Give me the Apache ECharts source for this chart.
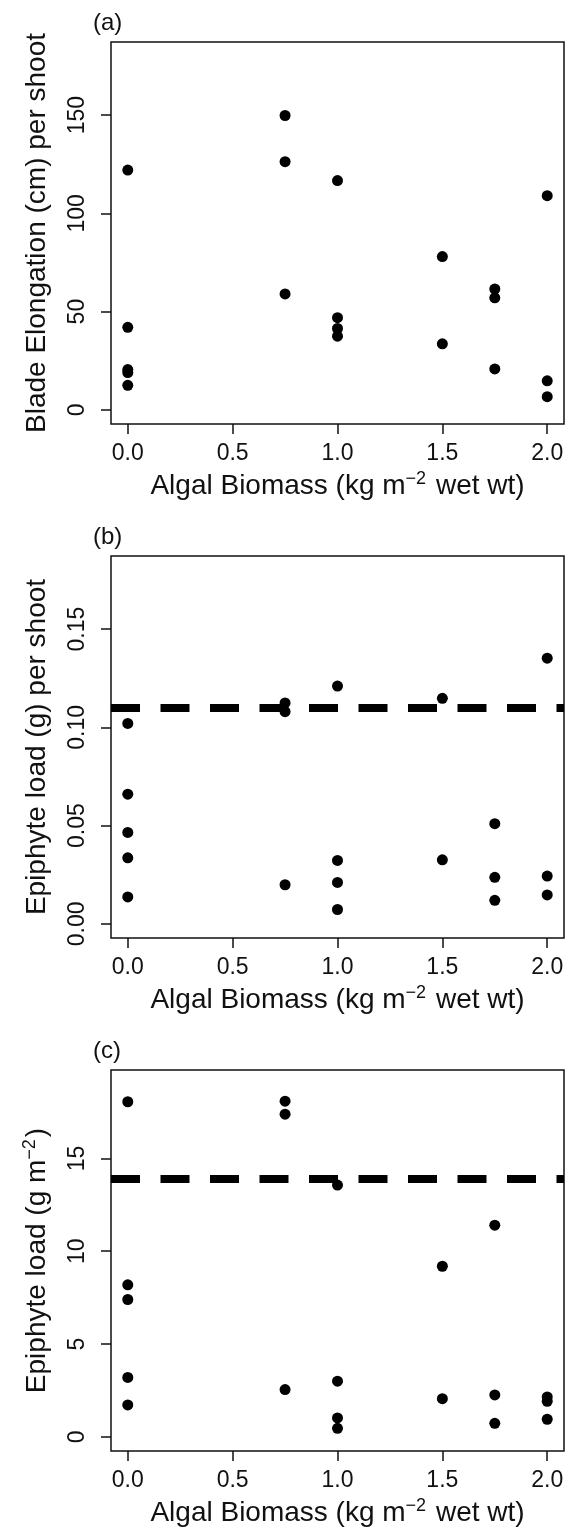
<!DOCTYPE html>
<html>
<head>
<meta charset="utf-8">
<script src="https://cdn.jsdelivr.net/npm/echarts@6/dist/echarts.min.js"></script>
<style>
  html, body { margin: 0; padding: 0; background: #fff; }
  #chart { width: 578px; height: 1528px; }
</style>
</head>
<body>
<div id="chart"></div>
<script>
// algal biomass levels (kg m-2 wet wt), x tick labels
const xTicks = [0, 0.5, 1, 1.5, 2];

// (a) blade elongation (cm) per shoot
const biomassA = [0, 0, 0, 0, 0, 0.75, 0.75, 0.75, 1, 1, 1, 1, 1.5, 1.5, 1.75, 1.75, 1.75, 2, 2, 2];
const elongation = [122, 42, 20.5, 19, 12.5, 149.8, 126.3, 59, 116.7, 46.9, 41.4, 37.5, 78, 33.6, 61.5, 57, 20.8, 109, 14.8, 6.7];
const yTicksA = [0, 50, 100, 150];

// (b) epiphyte load (g) per shoot
const biomassB = [0, 0, 0, 0, 0, 0.75, 0.75, 0.75, 1, 1, 1, 1, 1.5, 1.5, 1.75, 1.75, 1.75, 2, 2, 2];
const loadShoot = [0.102, 0.066, 0.0465, 0.0336, 0.0137, 0.1124, 0.108, 0.0199, 0.121, 0.0323, 0.0211, 0.0073, 0.1148, 0.0326, 0.051, 0.0237, 0.012, 0.1352, 0.0243, 0.0147];
const yTicksB = [0, 0.05, 0.1, 0.15];
const lineB = 0.1095;

// (c) epiphyte load (g m-2)
const biomassC = [0, 0, 0, 0, 0, 0.75, 0.75, 0.75, 1, 1, 1, 1, 1.5, 1.5, 1.75, 1.75, 1.75, 2, 2, 2];
const loadArea = [18.05, 8.19, 7.4, 3.2, 1.72, 18.08, 17.38, 2.55, 13.56, 3.0, 1.02, 0.46, 9.19, 2.06, 11.4, 2.26, 0.73, 2.15, 1.92, 0.95];
const yTicksC = [0, 5, 10, 15];
const lineC = 13.9;

const FONT = 'Liberation Sans, Arial, Helvetica, sans-serif';
const INK = '#111';
const boxTops = [42, 556, 1070];
const boxH = 382;

const chart = echarts.init(document.getElementById('chart'));

const richName = {
  n: { fontSize: 28, fontFamily: FONT, color: INK, lineHeight: 32 },
  s: { fontSize: 18, fontFamily: FONT, color: INK, verticalAlign: 'top', padding: [0, 2, 0, 0] },
};

function xAxisFor(i) {
  return {
    type: 'value',
    gridIndex: i,
    min: -0.08,
    max: 2.08,
    splitLine: { show: false },
    axisLine: { show: false, onZero: false },
    axisTick: {
      show: true, length: 10, customValues: xTicks,
      lineStyle: { color: INK, width: 1.5 },
    },
    axisLabel: {
      customValues: xTicks,
      formatter: (v) => v.toFixed(1),
      margin: 18,
      fontSize: 23,
      fontFamily: FONT,
      color: INK,
    },
    name: '{n|Algal Biomass (kg m}{s|−2}{n| wet wt)}',
    nameLocation: 'middle',
    nameGap: 46,
    nameTextStyle: { rich: richName },
  };
}

function yAxisFor(i, min, max, ticks, fmt, name) {
  return {
    type: 'value',
    gridIndex: i,
    min,
    max,
    splitLine: { show: false },
    axisLine: { show: false, onZero: false },
    axisTick: {
      show: true, length: 10, customValues: ticks,
      lineStyle: { color: INK, width: 1.5 },
    },
    axisLabel: {
      customValues: ticks,
      formatter: fmt,
      rotate: 90,
      margin: 22,
      fontSize: 23,
      fontFamily: FONT,
      color: INK,
    },
    name,
    nameLocation: 'middle',
    nameRotate: 90,
    nameGap: 58,
    nameTextStyle: { fontSize: 28, fontFamily: FONT, color: INK, rich: richName },
  };
}

function dashLine(v) {
  return {
    silent: true,
    symbol: 'none',
    animation: false,
    label: { show: false },
    lineStyle: { color: '#000', width: 8, type: [29, 20.5], cap: 'butt', opacity: 1 },
    data: [{ yAxis: v }],
  };
}

function scatter(i, xs, ys, mark) {
  const s = {
    type: 'scatter',
    xAxisIndex: i,
    yAxisIndex: i,
    symbolSize: 11,
    itemStyle: { color: '#000', opacity: 1 },
    data: xs.map((x, k) => [x, ys[k]]),
  };
  if (mark !== undefined) s.markLine = dashLine(mark);
  return s;
}

chart.setOption({
  animation: false,
  title: ['(a)', '(b)', '(c)'].map((t, i) => ({
    text: t,
    left: 93,
    top: boxTops[i] - 31,
    padding: 0,
    textStyle: { fontSize: 24, fontWeight: 'normal', fontFamily: FONT, color: INK },
  })),
  grid: boxTops.map((t) => ({
    left: 111,
    top: t,
    width: 453,
    height: boxH,
    show: true,
    borderColor: INK,
    borderWidth: 1.5,
    backgroundColor: 'transparent',
  })),
  xAxis: [xAxisFor(0), xAxisFor(1), xAxisFor(2)],
  yAxis: [
    yAxisFor(0, -7.2, 187.2, yTicksA, (v) => String(v), '{n|Blade Elongation (cm) per shoot}'),
    yAxisFor(1, -0.0072, 0.1872, yTicksB, (v) => v.toFixed(2), '{n|Epiphyte load (g) per shoot}'),
    yAxisFor(2, -0.76, 19.76, yTicksC, (v) => String(v), '{n|Epiphyte load (g m}{s|−2}{n|)}'),
  ],
  series: [
    scatter(0, biomassA, elongation),
    scatter(1, biomassB, loadShoot, lineB),
    scatter(2, biomassC, loadArea, lineC),
  ],
});
</script>
</body>
</html>
